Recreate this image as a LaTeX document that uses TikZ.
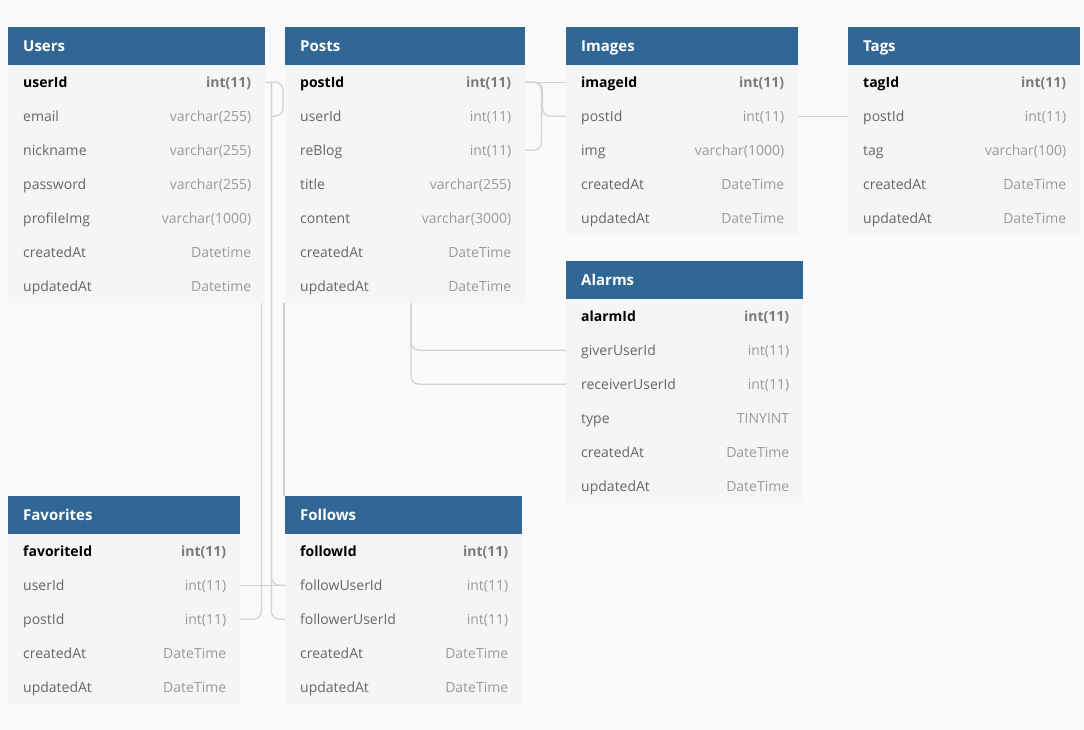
\documentclass[tikz,border=0pt]{standalone}
\usepackage{fontspec}
\setmainfont{Open Sans}
\pgfdeclarelayer{bg}
\pgfsetlayers{bg,main}
\definecolor{pagebg}{HTML}{FAFAFA}
\definecolor{hdr}{HTML}{316795}
\definecolor{bodyc}{HTML}{F5F5F5}
\definecolor{namec}{HTML}{666666}
\definecolor{typec}{HTML}{9A9A9A}
\definecolor{pktypec}{HTML}{7A7A7A}
\definecolor{connc}{HTML}{D2D2D2}
\tikzset{
  hdrbox/.style={draw=none, fill=hdr, minimum height=38pt, inner sep=0pt},
  hdrtxt/.style={text=white, font=\bfseries\fontsize{15}{18}\selectfont, inner sep=0pt},
  rowbox/.style={draw=none, fill=bodyc, minimum height=34pt, inner sep=0pt},
  fname/.style={text=namec, font=\fontsize{14}{17}\selectfont, inner sep=0pt},
  ftype/.style={text=typec, font=\fontsize{14}{17}\selectfont, inner sep=0pt},
  pkname/.style={text=black, font=\bfseries\fontsize{14}{17}\selectfont, inner sep=0pt},
  pktype/.style={text=pktypec, font=\bfseries\fontsize{14}{17}\selectfont, inner sep=0pt},
  conn/.style={draw=connc, line width=1.3pt, rounded corners=8pt},
}
\newcommand{\dbtable}[6]{%
  \node[hdrbox, minimum width=#5pt, anchor=north west] (#1-h) at (#3,#4) {};
  \node[hdrtxt, anchor=base west, xshift=15pt, yshift=-5.5pt] (#1-title) at (#1-h.west) {#2};
  \foreach \n/\t [count=\i] in {#6} {
    \node[rowbox, minimum width=#5pt, anchor=north west] (#1-\i) at ({#3},{#4+38+(\i-1)*34}) {};
    \ifnum\i=1
      \node[pkname, anchor=base west, xshift=15pt, yshift=-5pt] (#1-\i-n) at (#1-\i.west) {\n};
      \node[pktype, anchor=base east, xshift=-14pt, yshift=-5pt] (#1-\i-t) at (#1-\i.east) {\t};
    \else
      \node[fname, anchor=base west, xshift=15pt, yshift=-5pt] (#1-\i-n) at (#1-\i.west) {\n};
      \node[ftype, anchor=base east, xshift=-14pt, yshift=-5pt] (#1-\i-t) at (#1-\i.east) {\t};
    \fi
  }%
}
\begin{document}
\begin{tikzpicture}[x=1pt, y=-1pt]
\begin{pgfonlayer}{bg}
\fill[pagebg] (0,0) rectangle (1084,730);
\end{pgfonlayer}
\useasboundingbox (0,0) rectangle (1084,730);

% tables
\dbtable{users}{Users}{8}{27}{257}{userId/int(11), email/varchar(255), nickname/varchar(255), password/varchar(255), profileImg/varchar(1000), createdAt/Datetime, updatedAt/Datetime}
\dbtable{posts}{Posts}{285}{27}{240}{postId/int(11), userId/int(11), reBlog/int(11), title/varchar(255), content/varchar(3000), createdAt/DateTime, updatedAt/DateTime}
\dbtable{images}{Images}{566}{27}{232}{imageId/int(11), postId/int(11), img/varchar(1000), createdAt/DateTime, updatedAt/DateTime}
\dbtable{tags}{Tags}{848}{27}{232}{tagId/int(11), postId/int(11), tag/varchar(100), createdAt/DateTime, updatedAt/DateTime}
\dbtable{alarms}{Alarms}{566}{261}{237}{alarmId/int(11), giverUserId/int(11), receiverUserId/int(11), type/TINYINT, createdAt/DateTime, updatedAt/DateTime}
\dbtable{favorites}{Favorites}{8}{496}{232}{favoriteId/int(11), userId/int(11), postId/int(11), createdAt/DateTime, updatedAt/DateTime}
\dbtable{follows}{Follows}{285}{496}{237}{followId/int(11), followUserId/int(11), followerUserId/int(11), createdAt/DateTime, updatedAt/DateTime}

% connectors, behind the tables
\begin{pgfonlayer}{bg}
\draw[conn] (users-1.east) -- ([xshift=-2pt]posts-1.west) -- ([xshift=-2pt]posts-2.west) -- ([xshift=-14pt]posts-2.west);
\draw[conn] ([xshift=6pt]users-1.east) |- (follows-2.west);
\draw[conn] ([xshift=6pt]users-1.east) |- (follows-3.west);
\draw[conn] (favorites-2.east) -- (follows-2.west);
\draw[conn] ([xshift=-4pt]users-1.east) |- (favorites-3.east);
\draw[conn] ([xshift=-1pt]posts-7.south west) -- ([xshift=-1pt]follows-h.north west);
\draw[conn] (posts-1.east) -- (images-1.west);
\draw[conn] (posts-3.east) -| ([xshift=16pt]posts-1.east) -- (posts-1.east);
\draw[conn] (images-2.west) -| ([xshift=17pt]posts-1.east) -- (posts-1.east);
\draw[conn] (images-2.east) -- (tags-2.west);
\draw[conn] ([xshift=126pt]posts-2.west) |- (alarms-2.west);
\draw[conn] ([xshift=126pt]posts-2.west) |- (alarms-3.west);
\end{pgfonlayer}
\end{tikzpicture}
\end{document}
